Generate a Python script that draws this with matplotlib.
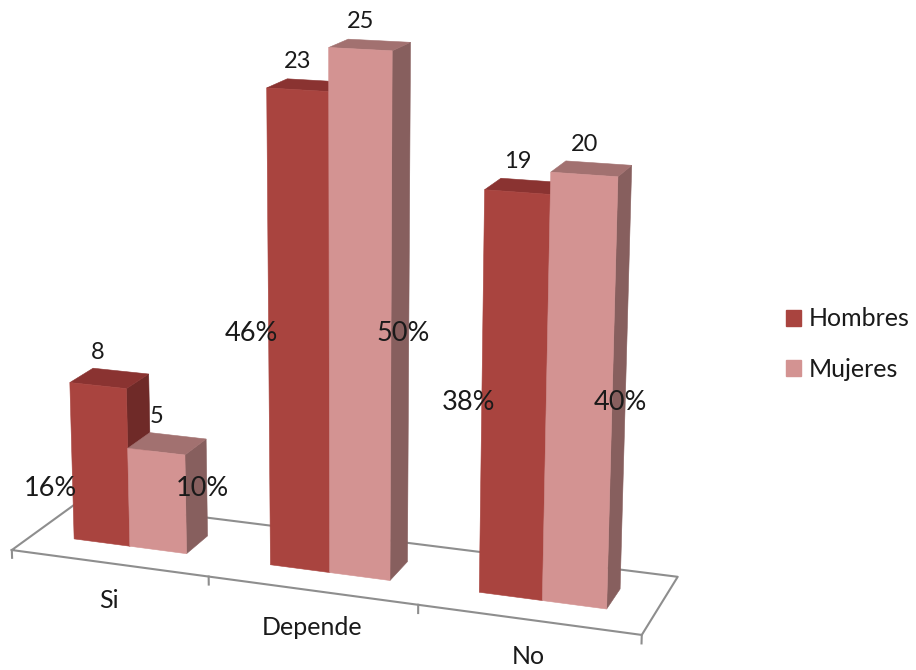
import numpy as np
import matplotlib
matplotlib.use("Agg")
from matplotlib import pyplot as plt
from matplotlib.patches import Polygon, Patch

categories = ["Si", "Depende", "No"]
series = ["Hombres", "Mujeres"]
hombres = [8, 23, 19]
mujeres = [5, 25, 20]

# perspective camera (world x = category, y = depth, z = value) -> pixels
P = np.array([
    [190.481, 71.4497, -0.680696, 11.824],
    [9.00437, -19.8105, -20.5277, 550.036],
    [-0.0303896, 0.0572475, -0.00195373, 1.0],
])
gap = 0.21           # side gap inside each category
d0, d1 = 0.325, 0.675  # front / back of the bars on the floor


def proj(x, y, z):
    h = P @ np.array([x, y, z, 1.0])
    return h[0] / h[2], h[1] / h[2]


face_colors = {
    "Hombres": ("#A9443F", "#8A3331", "#6F2A28"),  # front, top, side
    "Mujeres": ("#D39392", "#A27170", "#875F5E"),
}
txt = "#1A1A1A"

fig = plt.figure(figsize=(9.16, 6.70), dpi=100)
ax = fig.add_axes([0, 0, 1, 1])
ax.set_xlim(0, 916)
ax.set_ylim(670, 0)
ax.axis("off")

# floor
floor = [proj(0, 0, 0), proj(3, 0, 0), proj(3, 1, 0), proj(0, 1, 0), proj(0, 0, 0)]
ax.plot([p[0] for p in floor], [p[1] for p in floor], color="#8E8E8E", lw=1.5, zorder=1)
for k in range(len(categories) + 1):
    a, b = proj(k, 0, 0), proj(k, 0, -0.4)
    ax.plot([a[0], b[0]], [a[1], b[1]], color="#8E8E8E", lw=1.5, zorder=1)

for c, cat in enumerate(categories):
    for s, vals in enumerate([hombres, mujeres]):
        x0 = c + gap if s == 0 else c + 0.5
        x1 = c + 0.5 if s == 0 else c + 1 - gap
        h = vals[c]
        front, top, side = face_colors[series[s]]
        faces = [
            ([(x1, d0, 0), (x1, d1, 0), (x1, d1, h), (x1, d0, h)], side),
            ([(x0, d0, h), (x1, d0, h), (x1, d1, h), (x0, d1, h)], top),
            ([(x0, d0, 0), (x1, d0, 0), (x1, d0, h), (x0, d0, h)], front),
        ]
        for pts, col in faces:
            ax.add_patch(Polygon([proj(*p) for p in pts], closed=True, facecolor=col,
                                 edgecolor=col, lw=0.4, zorder=2))
        xc = (x0 + x1) / 2
        tx = proj(xc, d0, h)[0]
        ty = proj(xc, d1, h)[1] - 19
        ax.text(tx, ty, str(h), ha="center", va="center", fontsize=17,
                family="Lato", color=txt, zorder=3)

    # percentage of each series total
    zl = (hombres[c] + mujeres[c]) / 4 - 0.3
    sx, sy = proj(c + 0.5, d0, zl)
    for s, vals in enumerate([hombres, mujeres]):
        pct = round(100 * vals[c] / sum(vals))
        ax.text(sx - 2 + (-76 if s == 0 else 76), sy, f"{pct}%", ha="center", va="center",
                fontsize=19.5, family="Lato", color=txt, zorder=3)

    cx, cy = proj(c + 0.5, 0, 0)
    ax.text(cx, cy + 37, cat, ha="center", va="center", fontsize=18,
            family="Lato", color=txt)

handles = [Patch(facecolor=face_colors[s][0], edgecolor=face_colors[s][0]) for s in series]
ax.legend(handles, series, loc="center left", bbox_to_anchor=(786 / 916, 1 - 344 / 670),
          frameon=False, prop={"family": "Lato", "size": 18}, handlelength=0.6,
          handleheight=0.6, handletextpad=0.32, labelspacing=1.09, borderpad=0,
          borderaxespad=0, labelcolor=txt)

fig.savefig("out.png", dpi=100)
